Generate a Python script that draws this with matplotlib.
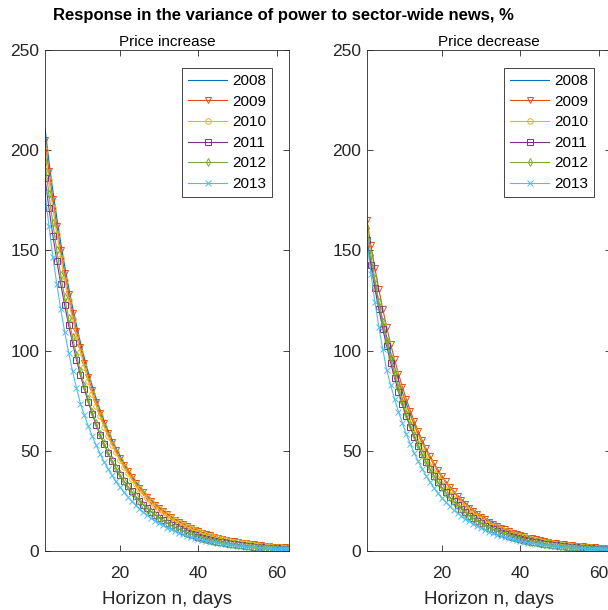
import numpy as np
import matplotlib.pyplot as plt

plt.rcParams['font.family'] = ['Liberation Sans', 'DejaVu Sans']

horizon = np.arange(1, 64)
years = ['2008', '2009', '2010', '2011', '2012', '2013']

# price increase panel
inc_2008 = [211.0, 194.3, 179.7, 166.2, 153.7, 142.2, 131.5, 121.7, 112.6, 104.1,
            96.3, 89.1, 82.4, 76.2, 70.5, 65.2, 60.3, 55.8, 51.6, 47.8,
            44.2, 40.9, 37.8, 35.0, 32.3, 29.9, 27.7, 25.6, 23.7, 21.9,
            20.3, 18.7, 17.3, 16.0, 14.8, 13.7, 12.7, 11.7, 10.9, 10.0,
            9.3, 8.6, 8.0, 7.4, 6.8, 6.3, 5.8, 5.4, 5.0, 4.6,
            4.3, 3.9, 3.7, 3.4, 3.1, 2.9, 2.7, 2.5, 2.3, 2.1,
            2.0, 1.8, 1.7]
inc_2009 = [205.0, 189.6, 175.4, 162.3, 150.1, 138.8, 128.4, 118.8, 109.9, 101.6,
            94.0, 87.0, 80.4, 74.4, 68.8, 63.7, 58.9, 54.5, 50.4, 46.6,
            43.1, 39.9, 36.9, 34.1, 31.6, 29.2, 27.0, 25.0, 23.1, 21.4,
            19.8, 18.3, 16.9, 15.7, 14.5, 13.4, 12.4, 11.5, 10.6, 9.8,
            9.1, 8.4, 7.8, 7.2, 6.6, 6.2, 5.7, 5.2, 4.9, 4.5,
            4.2, 3.9, 3.6, 3.3, 3.1, 2.8, 2.6, 2.4, 2.2, 2.1,
            1.9, 1.8, 1.6]
inc_2010 = [200.0, 185.0, 171.1, 158.3, 146.4, 135.4, 125.3, 115.9, 107.2, 99.2,
            91.7, 84.8, 78.5, 72.6, 67.2, 62.1, 57.5, 53.1, 49.2, 45.5,
            42.1, 38.9, 36.0, 33.3, 30.8, 28.5, 26.4, 24.4, 22.5, 20.9,
            19.3, 17.8, 16.5, 15.3, 14.1, 13.1, 12.1, 11.2, 10.3, 9.6,
            8.8, 8.2, 7.6, 7.0, 6.5, 6.0, 5.5, 5.1, 4.7, 4.4,
            4.1, 3.8, 3.5, 3.2, 3.0, 2.7, 2.5, 2.4, 2.2, 2.0,
            1.9, 1.7, 1.6]
inc_2011 = [186.0, 171.1, 157.4, 144.8, 133.3, 122.6, 112.8, 103.8, 95.5, 87.8,
            80.8, 74.3, 68.4, 62.9, 57.9, 53.3, 49.0, 45.1, 41.5, 38.1,
            35.1, 32.3, 29.7, 27.3, 25.1, 23.1, 21.3, 19.6, 18.0, 16.6,
            15.3, 14.0, 12.9, 11.9, 10.9, 10.0, 9.2, 8.5, 7.8, 7.2,
            6.6, 6.1, 5.6, 5.2, 4.7, 4.4, 4.0, 3.7, 3.4, 3.1,
            2.9, 2.6, 2.4, 2.2, 2.1, 1.9, 1.7, 1.6, 1.5, 1.4,
            1.2, 1.2, 1.1]
inc_2012 = [194.0, 178.1, 163.5, 150.1, 137.8, 126.5, 116.1, 106.6, 97.8, 89.8,
            82.5, 75.7, 69.5, 63.8, 58.6, 53.8, 49.4, 45.3, 41.6, 38.2,
            35.0, 32.2, 29.6, 27.2, 25.0, 23.0, 21.2, 19.5, 17.9, 16.5,
            15.2, 14.0, 12.8, 11.8, 10.9, 10.0, 9.2, 8.4, 7.8, 7.1,
            6.6, 6.0, 5.6, 5.1, 4.7, 4.3, 4.0, 3.7, 3.4, 3.1,
            2.8, 2.6, 2.4, 2.2, 2.0, 1.9, 1.7, 1.6, 1.5, 1.3,
            1.2, 1.1, 1.0]
inc_2013 = [179.0, 162.2, 146.9, 133.1, 120.6, 109.3, 99.0, 89.7, 81.3, 73.6,
            67.7, 62.3, 57.3, 52.7, 48.5, 44.6, 41.0, 37.8, 34.7, 32.0,
            29.4, 27.1, 24.9, 22.9, 21.1, 19.4, 17.8, 16.4, 15.1, 13.9,
            12.8, 11.7, 10.8, 9.9, 9.1, 8.4, 7.7, 7.1, 6.5, 6.0,
            5.5, 5.1, 4.7, 4.3, 4.0, 3.6, 3.3, 3.1, 2.8, 2.6,
            2.4, 2.2, 2.0, 1.9, 1.7, 1.6, 1.5, 1.3, 1.2, 1.1,
            1.0, 0.9, 0.9]

# price decrease panel
dec_2008 = [155.0, 143.8, 133.5, 123.9, 114.9, 106.7, 99.0, 91.9, 85.3, 79.1,
            73.4, 68.1, 63.2, 58.7, 54.5, 50.5, 46.9, 43.5, 40.4, 37.5,
            34.8, 32.3, 29.9, 27.8, 25.8, 23.9, 22.2, 20.6, 19.1, 17.7,
            16.5, 15.3, 14.2, 13.2, 12.2, 11.3, 10.5, 9.8, 9.1, 8.4,
            7.8, 7.2, 6.7, 6.2, 5.8, 5.4, 5.0, 4.6, 4.3, 4.0,
            3.7, 3.4, 3.2, 3.0, 2.7, 2.5, 2.4, 2.2, 2.0, 1.9,
            1.8, 1.6, 1.5]
dec_2009 = [165.0, 152.6, 141.2, 130.6, 120.8, 111.7, 103.4, 95.6, 88.4, 81.8,
            75.7, 70.0, 64.7, 59.9, 55.4, 51.2, 47.4, 43.8, 40.6, 37.5,
            34.7, 32.1, 29.7, 27.5, 25.4, 23.5, 21.7, 20.1, 18.6, 17.2,
            15.9, 14.7, 13.6, 12.6, 11.6, 10.8, 10.0, 9.2, 8.5, 7.9,
            7.3, 6.7, 6.3, 5.8, 5.3, 5.0, 4.6, 4.2, 3.9, 3.6,
            3.3, 3.1, 2.9, 2.7, 2.5, 2.3, 2.1, 1.9, 1.8, 1.7,
            1.5, 1.4, 1.3]
dec_2010 = [154.0, 142.5, 131.8, 121.9, 112.7, 104.3, 96.5, 89.2, 82.5, 76.4,
            70.6, 65.3, 60.4, 55.9, 51.7, 47.8, 44.2, 40.9, 37.9, 35.0,
            32.4, 30.0, 27.7, 25.6, 23.7, 21.9, 20.3, 18.8, 17.4, 16.1,
            14.9, 13.7, 12.7, 11.8, 10.9, 10.1, 9.3, 8.6, 8.0, 7.4,
            6.8, 6.3, 5.8, 5.4, 5.0, 4.6, 4.3, 3.9, 3.6, 3.4,
            3.1, 2.9, 2.7, 2.5, 2.3, 2.1, 2.0, 1.8, 1.7, 1.6,
            1.4, 1.3, 1.2]
dec_2011 = [155.0, 142.6, 131.2, 120.7, 111.0, 102.2, 94.0, 86.5, 79.5, 73.2,
            67.3, 61.9, 57.0, 52.4, 48.2, 44.4, 40.8, 37.6, 34.5, 31.8,
            29.2, 26.9, 24.8, 22.8, 21.0, 19.3, 17.7, 16.3, 15.0, 13.8,
            12.7, 11.7, 10.8, 9.9, 9.1, 8.4, 7.7, 7.1, 6.5, 6.0,
            5.5, 5.1, 4.7, 4.3, 4.0, 3.6, 3.3, 3.1, 2.8, 2.6,
            2.4, 2.2, 2.0, 1.9, 1.7, 1.6, 1.5, 1.3, 1.2, 1.1,
            1.0, 1.0, 0.9]
dec_2012 = [161.0, 147.8, 135.7, 124.5, 114.3, 105.0, 96.4, 88.5, 81.2, 74.5,
            68.4, 62.8, 57.7, 52.9, 48.6, 44.6, 41.0, 37.6, 34.5, 31.7,
            29.1, 26.8, 24.6, 22.7, 20.9, 19.2, 17.7, 16.3, 15.0, 13.8,
            12.7, 11.7, 10.7, 9.9, 9.1, 8.4, 7.7, 7.1, 6.5, 6.0,
            5.5, 5.1, 4.7, 4.3, 3.9, 3.6, 3.3, 3.1, 2.8, 2.6,
            2.4, 2.2, 2.0, 1.9, 1.7, 1.6, 1.4, 1.3, 1.2, 1.1,
            1.0, 0.9, 0.9]
dec_2013 = [154.0, 138.4, 124.5, 111.9, 100.6, 90.4, 82.8, 75.9, 69.5, 63.7,
            58.3, 53.4, 48.9, 44.8, 41.1, 37.6, 34.5, 31.6, 28.9, 26.5,
            24.4, 22.4, 20.6, 19.0, 17.5, 16.1, 14.8, 13.6, 12.5, 11.5,
            10.6, 9.7, 9.0, 8.2, 7.6, 7.0, 6.4, 5.9, 5.4, 5.0,
            4.6, 4.2, 3.9, 3.6, 3.3, 3.0, 2.8, 2.6, 2.4, 2.2,
            2.0, 1.8, 1.7, 1.6, 1.4, 1.3, 1.2, 1.1, 1.0, 0.9,
            0.9, 0.8, 0.7]

increase = [inc_2008, inc_2009, inc_2010, inc_2011, inc_2012, inc_2013]
decrease = [dec_2008, dec_2009, dec_2010, dec_2011, dec_2012, dec_2013]

colors = ['#0072BD', '#D95319', '#EDB120', '#7E2F8E', '#77AC30', '#4DBEEE']
markers = ['', 'v', 'o', 's', 'd', 'x']
axcol = '#262626'

fig = plt.figure(figsize=(6.08, 6.10), dpi=100)
ax1 = fig.add_axes([45/608, 59/610, 244/608, 501/610])
ax2 = fig.add_axes([367/608, 59/610, 244/608, 501/610])

for ax, series, title in [(ax1, increase, 'Price increase'), (ax2, decrease, 'Price decrease')]:
    for vals, c, m, yr in zip(series, colors, markers, years):
        ax.plot(horizon, vals, color=c, marker=m if m else None, markersize=4,
                markerfacecolor='none', markeredgewidth=0.7, linewidth=0.8, label=yr)
    ax.set_xlim(1, 63)
    ax.set_ylim(0, 250)
    ax.set_xticks([20, 40, 60])
    ax.set_yticks([0, 50, 100, 150, 200, 250])
    ax.tick_params(direction='in', top=True, right=True, length=4, width=0.6,
                   colors=axcol, labelsize=12.5)
    ax.tick_params(axis='x', pad=11)
    ax.tick_params(axis='y', pad=4)
    for s in ax.spines.values():
        s.set_color(axcol)
        s.set_linewidth(0.6)
    ax.set_xlabel('Horizon n, days', fontsize=13.5, color=axcol, labelpad=7)
    ax.set_title(title, fontsize=11, color='black', pad=3)
    leg = ax.legend(loc='upper right', bbox_to_anchor=(0.93, 0.964), borderaxespad=0,
                    fontsize=11, handlelength=2.55, handletextpad=0.3, labelspacing=0.43,
                    borderpad=0.4, fancybox=False, framealpha=1)
    leg.get_frame().set_edgecolor(axcol)
    leg.get_frame().set_linewidth(0.6)

fig.text(0.467, 0.974, 'Response in the variance of power to sector-wide news, %',
         ha='center', va='center', fontsize=12, fontweight='bold')

fig.savefig('out.png', dpi=100)
